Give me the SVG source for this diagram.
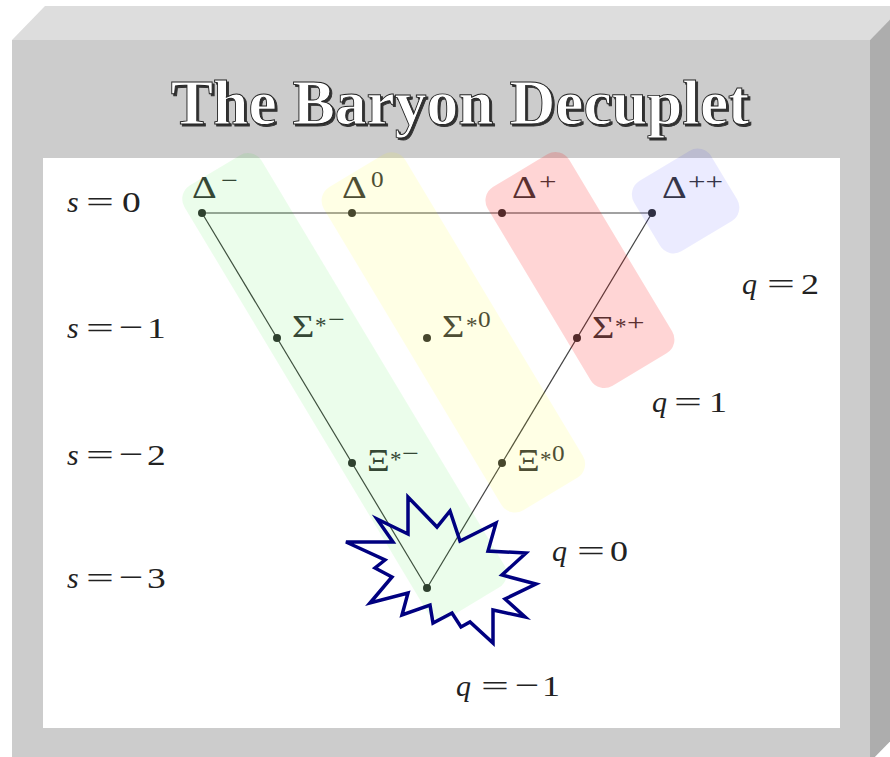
<svg xmlns="http://www.w3.org/2000/svg" width="890" height="757" viewBox="0 0 890 757">
<defs>
<style>
.t{font-family:"Liberation Serif","Times New Roman",serif;fill:#222}
.g{font-family:"Liberation Serif","Times New Roman",serif;fill:#3a3a3a;font-size:32px}
.sup{font-family:"Liberation Serif","Times New Roman",serif;fill:#3a3a3a;font-size:23px}
.lab{font-size:30px}
.it{font-style:italic}
.dot{fill:#333}
.band{stroke:none}
</style>
<filter id="shadow" x="-5%" y="-20%" width="110%" height="140%">
<feOffset in="SourceAlpha" dx="2" dy="2" result="off"/>
<feFlood flood-color="#333333"/>
<feComposite in2="off" operator="in" result="sh"/>
<feMerge><feMergeNode in="sh"/><feMergeNode in="SourceGraphic"/></feMerge>
</filter>
</defs>
<rect width="890" height="757" fill="#ffffff"/>
<g id="frame">
<polygon points="12,40 45,6 903,6 870,40" fill="#dddddd"/>
<polygon points="870,40 903,6 903,728 870,762" fill="#adadad"/>
<rect x="12" y="40" width="858" height="722" fill="#cccccc"/>
<rect x="43" y="158" width="797" height="570" fill="#ffffff"/>
</g>
<g id="title">
<text x="460" y="124" font-family="Liberation Serif, Times New Roman, serif" font-weight="bold" font-size="63.5" text-anchor="middle" fill="#ffffff" stroke="#222" stroke-width="0.9" filter="url(#shadow)">The Baryon Decuplet</text>
</g>
<g id="connectors" fill="none" stroke="#444" stroke-width="1.2">
<line x1="202" y1="213" x2="652" y2="213"/>
<line x1="202" y1="213" x2="427" y2="588"/>
<line x1="652" y1="213" x2="427" y2="588"/>
</g>
<g id="Delta-minus">
<circle class="dot" cx="202" cy="213" r="4"/>
<text class="g" transform="translate(192,198) scale(1.2,1)">Δ</text>
<text class="sup" transform="translate(221,188) scale(1.3,1)">−</text>
</g>
<g id="Delta-zero">
<circle class="dot" cx="352" cy="213" r="4"/>
<text class="g" transform="translate(342,198) scale(1.2,1)">Δ</text>
<text class="sup" transform="translate(371,187) scale(1.1,1)">0</text>
</g>
<g id="Delta-plus">
<circle class="dot" cx="502" cy="213" r="4"/>
<text class="g" transform="translate(512,198) scale(1.2,1)">Δ</text>
<text class="sup" transform="translate(539,189) scale(1.35,1)">+</text>
</g>
<g id="Delta-plusplus">
<circle class="dot" cx="652" cy="213" r="4"/>
<text class="g" transform="translate(662,198) scale(1.2,1)">Δ</text>
<text class="sup" transform="translate(688,189) scale(1.35,1)">++</text>
</g>
<g id="Sigma-minus">
<circle class="dot" cx="277" cy="338" r="4"/>
<text class="g" transform="translate(292,337) scale(1.2,1)">Σ</text>
<text class="sup" x="315" y="333">*</text>
<text class="sup" transform="translate(328,327) scale(1.3,1)">−</text>
</g>
<g id="Sigma-zero">
<circle class="dot" cx="427" cy="338" r="4"/>
<text class="g" transform="translate(442,337) scale(1.2,1)">Σ</text>
<text class="sup" x="466" y="333">*</text>
<text class="sup" transform="translate(478,327) scale(1.1,1)">0</text>
</g>
<g id="Sigma-plus">
<circle class="dot" cx="577" cy="338" r="4"/>
<text class="g" transform="translate(592,338) scale(1.2,1)">Σ</text>
<text class="sup" x="615" y="334">*</text>
<text class="sup" transform="translate(627,330) scale(1.35,1)">+</text>
</g>
<g id="Xi-minus">
<circle class="dot" cx="352" cy="463" r="4"/>
<text class="g" transform="translate(367,471) scale(1.1,1)">Ξ</text>
<text class="sup" x="390" y="467">*</text>
<text class="sup" transform="translate(402,461) scale(1.3,1)">−</text>
</g>
<g id="Xi-zero">
<circle class="dot" cx="502" cy="463" r="4"/>
<text class="g" transform="translate(517,471) scale(1.1,1)">Ξ</text>
<text class="sup" x="540" y="467">*</text>
<text class="sup" transform="translate(552,461) scale(1.1,1)">0</text>
</g>
<g id="Omega-minus">
<circle class="dot" cx="427" cy="588" r="4"/>
</g>
<g id="strangeness-labels">
<text class="t lab it" x="67" y="212">s</text>
<text class="t lab" transform="translate(86,212) scale(1.65,1)">=</text>
<text class="t lab" transform="translate(122,212) scale(1.25,1)">0</text>
<text class="t lab it" x="67" y="338">s</text>
<text class="t lab" transform="translate(86,338) scale(1.65,1)">=</text>
<text class="t lab" transform="translate(119,337) scale(1.45,1)">−</text>
<text class="t lab" transform="translate(147,338) scale(1.25,1)">1</text>
<text class="t lab it" x="67" y="465">s</text>
<text class="t lab" transform="translate(86,465) scale(1.65,1)">=</text>
<text class="t lab" transform="translate(119,464) scale(1.45,1)">−</text>
<text class="t lab" transform="translate(147,465) scale(1.25,1)">2</text>
<text class="t lab it" x="67" y="588">s</text>
<text class="t lab" transform="translate(86,588) scale(1.65,1)">=</text>
<text class="t lab" transform="translate(119,587) scale(1.45,1)">−</text>
<text class="t lab" transform="translate(147,588) scale(1.25,1)">3</text>
</g>
<g id="charge-labels">
<text class="t lab it" x="742" y="294">q</text>
<text class="t lab" transform="translate(767,294) scale(1.65,1)">=</text>
<text class="t lab" transform="translate(801,294) scale(1.2,1)">2</text>
<text class="t lab it" x="652" y="412">q</text>
<text class="t lab" transform="translate(674,412) scale(1.65,1)">=</text>
<text class="t lab" transform="translate(709,412) scale(1.2,1)">1</text>
<text class="t lab it" x="552" y="561">q</text>
<text class="t lab" transform="translate(577,561) scale(1.65,1)">=</text>
<text class="t lab" transform="translate(610,561) scale(1.2,1)">0</text>
<text class="t lab it" x="456" y="696">q</text>
<text class="t lab" transform="translate(481,696) scale(1.65,1)">=</text>
<text class="t lab" transform="translate(515,695) scale(1.45,1)">−</text>
<text class="t lab" transform="translate(542,696) scale(1.2,1)">1</text>
</g>
<g id="bands">
<rect class="band" transform="translate(202,213) rotate(59.04)" x="-30" y="-78" width="504" height="90" rx="16" fill="#00e000" fill-opacity="0.08"/>
<rect class="band" transform="translate(352,213) rotate(59.04)" x="-34" y="-73" width="377" height="95" rx="16" fill="#ffff00" fill-opacity="0.1"/>
<rect class="band" transform="translate(502,213) rotate(59.04)" x="-27" y="-85" width="232" height="95" rx="16" fill="#ff0000" fill-opacity="0.165"/>
<rect class="band" transform="translate(652,213) rotate(59.04)" x="-34" y="-80" width="82" height="90" rx="16" fill="#0000ff" fill-opacity="0.08"/>
</g>
<g id="starburst">
<polygon points="346,542 393,542 377,519 408,534 408,497 437,527 450,511 460,541 496,523 488,551 526,553 502,575 536,584 505,599 525,617 493,610 493,643 470,622 461,627 452,613 433,623 430,605 402,615 408,593 370,603 392,577 375,568 385,560" fill="none" stroke="#000080" stroke-width="3.5" stroke-linejoin="miter"/>
</g>
</svg>
